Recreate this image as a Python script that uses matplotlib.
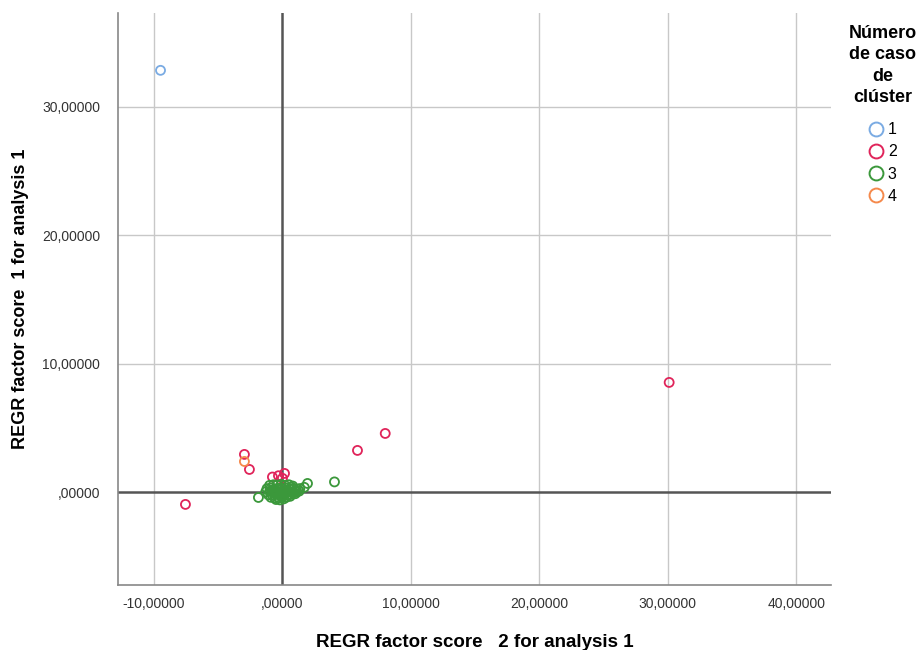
import numpy as np
import matplotlib
matplotlib.use("Agg")
import matplotlib.pyplot as plt
from matplotlib.lines import Line2D

plt.rcParams['font.family'] = ['Liberation Sans', 'DejaVu Sans']

# cluster 1
c1_x = [-9.49]
c1_y = [32.84]
# cluster 2
c2_x = [30.1, 8.0, 5.84, -2.96, -2.57, -7.55, -0.78, -0.31, 0.16, 0.0]
c2_y = [8.56, 4.59, 3.27, 2.96, 1.79, -0.93, 1.20, 1.30, 1.48, 1.10]
# cluster 3
c3_x = [4.05, 1.95, 1.70, 1.35, -1.87,
        -1.0, -0.7, -0.4, -0.1, 0.2, 0.5, 0.8,
        -1.2, -0.9, -0.6, -0.3, 0.0, 0.3, 0.6, 0.9, 1.2,
        -1.3, -1.0, -0.7, -0.4, -0.1, 0.2, 0.5, 0.8, 1.1, 1.3,
        -1.1, -0.8, -0.5, -0.2, 0.1, 0.4, 0.7, 1.0,
        -0.9, -0.6, -0.3, 0.0, 0.3, 0.6,
        -0.5, -0.2, 0.1,
        -0.8, -0.2, 0.4, 1.0, -0.5, 0.7]
c3_y = [0.82, 0.70, 0.40, 0.30, -0.39,
        0.55, 0.60, 0.58, 0.62, 0.55, 0.60, 0.50,
        0.30, 0.35, 0.28, 0.32, 0.30, 0.35, 0.28, 0.30, 0.25,
        0.05, 0.08, 0.02, 0.05, 0.00, 0.04, 0.06, 0.02, 0.05, 0.10,
        -0.18, -0.20, -0.15, -0.22, -0.18, -0.20, -0.15, -0.10,
        -0.38, -0.42, -0.40, -0.35, -0.38, -0.30,
        -0.55, -0.58, -0.50,
        0.15, 0.18, 0.15, 0.12, -0.05, 0.40]
# cluster 4
c4_x = [-2.96]
c4_y = [2.41]

cluster_labels = ['1', '2', '3', '4']
cluster_colors = ['#7aabe3', '#e0245a', '#3b983b', '#f5894b']

xticks = [-10, 0, 10, 20, 30, 40]
xtick_labels = ['-10,00000', ',00000', '10,00000', '20,00000', '30,00000', '40,00000']
yticks = [0, 10, 20, 30]
ytick_labels = [',00000', '10,00000', '20,00000', '30,00000']

fig = plt.figure(figsize=(9.24, 6.5), dpi=100)
ax = fig.add_axes([0.1277, 0.10, 0.7717, 0.88])

ax.set_xlim(-12.8, 42.7)
ax.set_ylim(-7.2, 37.3)

for xv in xticks:
    if xv != 0:
        ax.axvline(xv, color='#c8c8c8', lw=1.0, zorder=0)
for yv in yticks:
    if yv != 0:
        ax.axhline(yv, color='#c8c8c8', lw=1.0, zorder=0)
ax.axvline(0, color='#555555', lw=1.8, zorder=1)
ax.axhline(0, color='#555555', lw=1.8, zorder=1)

data = [(c1_x, c1_y), (c2_x, c2_y), (c3_x, c3_y), (c4_x, c4_y)]
for (xs, ys), col in zip(data, cluster_colors):
    ax.scatter(xs, ys, s=42, facecolors='none', edgecolors=col, linewidths=1.3, zorder=3)

ax.set_xticks(xticks)
ax.set_xticklabels(xtick_labels)
ax.set_yticks(yticks)
ax.set_yticklabels(ytick_labels)
ax.tick_params(length=0, labelsize=10, colors='#333333')
ax.tick_params(axis='x', pad=9)
ax.tick_params(axis='y', pad=13)

for side in ['top', 'right']:
    ax.spines[side].set_visible(False)
for side in ['left', 'bottom']:
    ax.spines[side].set_color('#888888')
    ax.spines[side].set_linewidth(1.2)

ax.set_xlabel('REGR factor score   2 for analysis 1', fontsize=13.5, fontweight='bold', labelpad=16)
ax.set_ylabel('REGR factor score  1 for analysis 1', fontsize=13, fontweight='bold', labelpad=9)

fig.text(0.9555, 0.962, 'Número\nde caso\nde\nclúster', ha='center', va='top',
         fontsize=13, fontweight='bold', multialignment='center', linespacing=1.35)

handles = [Line2D([], [], marker='o', ls='none', markersize=10, markerfacecolor='none',
                  markeredgecolor=c, markeredgewidth=1.4) for c in cluster_colors]
fig.legend(handles, cluster_labels, loc='upper left', bbox_to_anchor=(0.935, 0.812),
           frameon=False, fontsize=11.5, handletextpad=0.0, labelspacing=0.45,
           handlelength=1.5, borderpad=0.0, borderaxespad=0.0)

fig.savefig('out.png', dpi=100)
